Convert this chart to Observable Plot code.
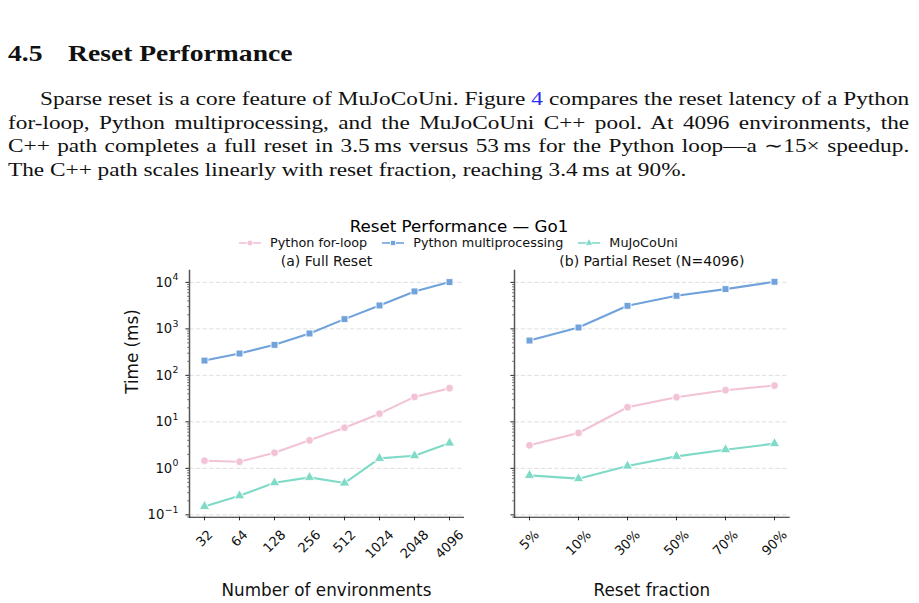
<!DOCTYPE html>
<html>
<head>
<meta charset="utf-8">
<script src="https://cdn.jsdelivr.net/npm/d3@7"></script>
<script src="https://cdn.jsdelivr.net/npm/@observablehq/plot@0.6"></script>
<style>
  html, body { margin: 0; padding: 0; background: #fff; }
  body { position: relative; width: 919px; height: 603px; overflow: hidden; color: #111; }
  .serif { font-family: "Liberation Serif", "Times New Roman", serif; }
  .hd { position: absolute; top: 42px; font-size: 23px; line-height: 23px; font-weight: bold; transform: scaleX(1.2); transform-origin: left center; white-space: nowrap; }
  .ln { position: absolute; left: 8px; width: 751px; font-size: 19.4px; line-height: 23.5px; text-align: justify; text-align-last: justify; transform: scaleX(1.2); transform-origin: left top; white-space: nowrap; }
  .ln.last { text-align-last: left; }
  .ref { color: #2b2bf2; }
  .sans { font-family: "DejaVu Sans", sans-serif; }
  #title { position: absolute; left: 0; width: 918px; top: 217px; text-align: center; font-size: 16.7px; line-height: 18px; color: #000; }
  #legend { position: absolute; left: 0; width: 917px; top: 236px; display: flex; justify-content: center; font-size: 12.8px; line-height: 14px; color: #111; }
  .item { display: flex; align-items: center; margin: 0 7.5px; }
  .item svg { margin-right: 9px; }
  .panel { position: absolute; }
</style>
</head>
<body>
<div class="serif hd" style="left:8px">4.5</div>
<div class="serif hd" style="left:68px">Reset Performance</div>
<div class="serif ln" style="top:87px; text-indent:26.7px">Sparse reset is a core feature of MuJoCoUni. Figure <span class="ref">4</span> compares the reset latency of a Python</div>
<div class="serif ln" style="top:110.5px">for-loop, Python multiprocessing, and the MuJoCoUni C++ pool. At 4096 environments, the</div>
<div class="serif ln" style="top:134px">C++ path completes a full reset in 3.5&#8201;ms versus 53&#8201;ms for the Python loop—a ∼15× speedup.</div>
<div class="serif ln last" style="top:157.5px">The C++ path scales linearly with reset fraction, reaching 3.4&#8201;ms at 90%.</div>

<div id="title" class="sans"></div>
<div id="legend" class="sans"></div>
<div id="left" class="panel" style="left:0px; top:248px"></div>
<div id="right" class="panel" style="left:470px; top:248px"></div>

<script>
// ---------------- data ----------------
const envCounts = ["32", "64", "128", "256", "512", "1024", "2048", "4096"];
const fractions = ["5%", "10%", "30%", "50%", "70%", "90%"];
const seriesNames = ["Python for-loop", "Python multiprocessing", "MuJoCoUni"];

// (a) Full reset, time in ms per number of environments
const fullForLoop   = [1.46, 1.39, 2.17, 4.0, 7.5, 15.0, 34.4, 53];
const fullMultiproc = [208, 295, 453, 795, 1618, 3184, 6380, 10140];
const fullMujoco    = [0.152, 0.257, 0.49, 0.64, 0.483, 1.64, 1.87, 3.5];

// (b) Partial reset (N=4096), time in ms per reset fraction
const partForLoop   = [3.13, 5.77, 20.6, 33.8, 47.9, 60.3];
const partMultiproc = [561, 1070, 3133, 5145, 7160, 10300];
const partMujoco    = [0.707, 0.60, 1.12, 1.81, 2.52, 3.4];

const yTickValues = [0.1, 1, 10, 100, 1000, 10000];
const chartTitle = "Reset Performance — Go1";
const panelTitles = ["(a) Full Reset", "(b) Partial Reset (N=4096)"];
const xAxisLabels = ["Number of environments", "Reset fraction"];
const yAxisLabel = "Time (ms)";

// ---------------- style ----------------
const COLORS = ["#f2c2d6", "#70a2db", "#7fdac7"];
const SYMBOLS = ["circle", "square", "triangle"];
const FONT = "DejaVu Sans";
const TICK_FS = 13.2;
const EXP_FS = 9.4;

function tidy(cats, arrays) {
  return arrays.flatMap((vals, s) => vals.map((v, i) => ({cat: cats[i], value: v, series: seriesNames[s]})));
}

const yDomain = [0.089, 18000];
const minorTicks = d3.range(-2, 5).flatMap(k => d3.range(2, 10).map(m => m * Math.pow(10, k)))
  .filter(v => v >= yDomain[0] && v <= yDomain[1]);

function charW(c) { return c === "%" ? 0.95 : c === "−" ? 0.838 : 0.636; }
function strW(s, fs) { return [...s].reduce((acc, ch) => acc + charW(ch), 0) * fs; }

function rotatedTickLabels(cats, fs, pad) {
  return cats.map(c => {
    const w = strW(c, fs);
    const h = 0.73 * fs;
    return Plot.text([c], {
      x: d => d, text: d => d, frameAnchor: "bottom", rotate: -45, fontSize: fs,
      textAnchor: "middle", lineAnchor: "middle", fill: "#111",
      dy: pad + (w + h) / (2 * Math.SQRT2)
    });
  });
}

// y tick labels as 10 with a raised exponent, right-aligned next to the ticks
function powerTickLabels(gap) {
  return yTickValues.flatMap(v => {
    const e = String(Math.round(Math.log10(v))).replace("-", "−");
    const ew = strW(e, EXP_FS);
    return [
      Plot.text([v], {y: d => d, text: () => e, frameAnchor: "left", textAnchor: "start",
        dx: -gap - ew, dy: -5.3, fontSize: EXP_FS, lineAnchor: "middle", fill: "#111"}),
      Plot.text([v], {y: d => d, text: () => "10", frameAnchor: "left", textAnchor: "end",
        dx: -gap - ew - 0.3, fontSize: TICK_FS, lineAnchor: "middle", fill: "#111"})
    ];
  });
}

function panel({cats, data, padding, width, height, marginLeft, marginRight, showY, title, xLabel}) {
  const marginTop = 22;
  const marginBottom = height - (516.7 - 248);
  const marks = [
    Plot.ruleY(yTickValues, {stroke: "#dcdcdc", strokeWidth: 0.9, strokeDasharray: "4.5,2.2"}),
    Plot.axisY(minorTicks, {tickSize: 2, strokeWidth: 0.6, color: "#333", tickFormat: () => "", label: null}),
    Plot.axisY(yTickValues, {tickSize: 3.6, strokeWidth: 0.9, color: "#111", tickFormat: () => "", label: null}),
    Plot.axisX(cats, {tickSize: 3.6, strokeWidth: 0.9, color: "#111", tickFormat: () => "", label: null}),
    ...rotatedTickLabels(cats, TICK_FS, 12),
    ...(showY ? powerTickLabels(11) : []),
    Plot.frame({anchor: "left", stroke: "#555", strokeWidth: 1.5}),
    Plot.frame({anchor: "bottom", stroke: "#222", strokeWidth: 1.1}),
    Plot.line(data, {x: "cat", y: "value", z: "series", stroke: "series", strokeWidth: 2.1}),
    Plot.dot(data, {x: "cat", y: "value", fill: "series", symbol: "series", stroke: "white", strokeWidth: 0.9, r: 3.9}),
    Plot.text([title], {text: d => d, frameAnchor: "top", dy: -9, fontSize: 14, lineAnchor: "middle", fill: "#111"}),
    Plot.text([xLabel], {text: d => d, frameAnchor: "bottom", dy: 73.5, fontSize: 16.8, lineAnchor: "middle", fill: "#111"})
  ];
  if (showY) {
    marks.push(Plot.text([yAxisLabel], {text: d => d, frameAnchor: "left", dx: -57, rotate: -90, fontSize: 16.8, lineAnchor: "middle", fill: "#111"}));
  }
  return Plot.plot({
    width, height, marginLeft, marginRight, marginTop, marginBottom,
    style: {fontFamily: FONT, fontSize: "12.5px", background: "transparent", color: "#111"},
    x: {type: "point", domain: cats, padding, axis: null},
    y: {type: "log", domain: yDomain, axis: null},
    color: {domain: seriesNames, range: COLORS},
    symbol: {domain: seriesNames, range: SYMBOLS},
    marks
  });
}

const H = 603 - 248;
document.getElementById("left").appendChild(panel({
  cats: envCounts,
  data: tidy(envCounts, [fullForLoop, fullMultiproc, fullMujoco]),
  padding: 0.34, width: 470, height: H, marginLeft: 189, marginRight: 7,
  showY: true, title: panelTitles[0], xLabel: xAxisLabels[0]
}));
document.getElementById("right").appendChild(panel({
  cats: fractions,
  data: tidy(fractions, [partForLoop, partMultiproc, partMujoco]),
  padding: 0.25, width: 449, height: H, marginLeft: 44, marginRight: 130.3,
  showY: false, title: panelTitles[1], xLabel: xAxisLabels[1]
}));

// title & legend
document.getElementById("title").textContent = chartTitle;
const legend = d3.select("#legend");
seriesNames.forEach((name, i) => {
  const item = legend.append("div").attr("class", "item");
  const svg = item.append("svg").attr("width", 22).attr("height", 10);
  svg.append("line").attr("x1", 0).attr("x2", 22).attr("y1", 5).attr("y2", 5)
    .attr("stroke", COLORS[i]).attr("stroke-width", 1.6);
  const sym = [d3.symbolCircle, d3.symbolSquare, d3.symbolTriangle][i];
  svg.append("path").attr("d", d3.symbol(sym, 26)()).attr("transform", "translate(11,5)")
    .attr("fill", COLORS[i]).attr("stroke", "white").attr("stroke-width", 0.8);
  item.append("span").text(name);
});
</script>
</body>
</html>
